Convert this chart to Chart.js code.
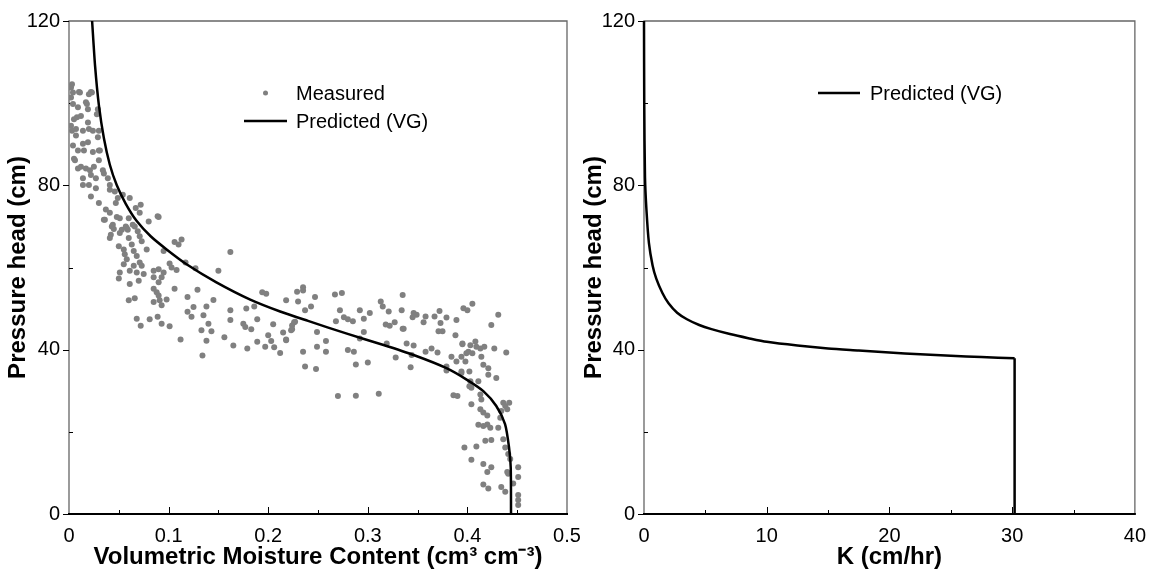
<!DOCTYPE html>
<html>
<head>
<meta charset="utf-8">
<script src="https://cdn.jsdelivr.net/npm/chart.js@4.4.0/dist/chart.umd.min.js"></script>
<style>
  html, body { margin: 0; padding: 0; background: #fff; }
  #wrap { position: relative; width: 1156px; height: 572px; overflow: hidden; }
  #left { position: absolute; left: 0; top: 0; }
  #right { position: absolute; left: 578px; top: 0; }
</style>
</head>
<body>
<div id="wrap">
  <canvas id="left" width="600" height="572"></canvas>
  <canvas id="right" width="578" height="572"></canvas>
</div>
<script>
// measured retention points: moisture content (cm3/cm3) and pressure head (cm)
let measuredTheta = [
  0.002,0.004,0.010,0.020,0.022,0.002,0.004,0.009,0.017,0.019,
  0.012,0.005,0.002,0.007,0.014,0.020,0.024,0.030,0.029,0.019,
  0.007,0.004,0.009,0.015,0.024,0.030,0.005,0.012,0.017,0.022,
  0.027,0.014,0.030,0.025,0.035,0.039,0.020,0.027,0.041,0.046,
  0.049,0.054,0.061,0.022,0.030,0.037,0.041,0.047,0.067,0.072,
  0.071,0.089,0.035,0.044,0.051,0.057,0.064,0.069,0.042,0.051,
  0.059,0.009,0.019,0.029,
  0.003,0.011,0.023,0.018,0.008,0.028,0.003,0.014,0.031,0.006,0.021,0.034,0.014,0.041,
  0.036,0.048,0.060,0.080,0.090,0.043,0.045,0.053,0.058,0.066,
  0.041,0.060,0.071,0.073,0.106,0.113,0.110,0.050,0.055,0.063,
  0.065,0.056,0.068,0.078,0.095,0.162,0.058,0.071,0.055,0.065,
  0.073,0.061,0.068,0.075,0.051,0.050,0.070,0.061,0.101,0.103,
  0.108,0.117,0.127,0.150,0.085,0.090,0.095,0.085,0.093,0.090,
  0.085,0.088,0.090,0.091,0.098,0.085,0.093,0.106,0.060,0.066,
  0.119,0.129,0.145,0.125,0.138,0.119,0.123,0.135,0.140,0.068,
  0.081,0.089,0.093,0.072,0.101,0.133,0.143,0.112,0.138,0.156,
  0.165,0.179,0.134,0.162,0.162,0.178,0.186,0.189,0.175,0.177,
  0.183,0.194,0.198,0.218,0.229,0.205,0.215,0.224,0.227,0.200,
  0.189,0.203,0.197,0.206,0.218,0.212,
  0.235,0.235,0.230,0.247,0.243,0.237,0.226,0.224,0.223,0.218,
  0.235,0.249,0.249,0.258,0.258,0.237,0.248,0.267,0.274,0.272,
  0.268,0.276,0.280,0.285,0.292,0.296,0.302,0.296,0.292,0.280,
  0.286,0.288,0.300,0.319,0.313,0.315,0.321,0.318,0.322,0.327,
  0.335,0.334,0.335,0.328,0.339,0.346,0.344,0.343,0.346,0.349,
  0.345,0.358,0.356,0.367,0.372,0.373,0.371,0.375,0.379,0.389,
  0.396,0.400,0.388,0.395,0.358,0.364,0.370,0.384,0.389,0.394,
  0.398,0.399,0.379,0.379,0.394,0.386,0.390,0.402,0.270,0.288,
  0.311,0.336,0.397,
  0.405,0.431,0.424,0.395,0.401,0.403,0.405,0.408,0.409,0.413,
  0.414,0.417,0.427,0.439,0.416,0.421,0.421,0.429,0.394,0.402,
  0.403,0.404,0.411,0.413,0.414,0.404,0.413,0.416,0.420,0.411,
  0.416,0.420,0.423,0.433,0.434,0.438,0.442,0.436,0.440,0.431,
  0.436,0.438,0.424,0.418,0.409,0.404,0.416,0.424,0.420,0.416,
  0.421,0.434,0.438,0.441,0.446,0.441,0.451,0.451,0.451,0.451,
  0.451,0.443,0.440
];
let measuredHead = [
  103.8,102.6,102.7,102.2,102.7,101.4,99.8,99.0,100.2,98.5,
  96.9,96.1,94.5,93.7,93.3,93.7,93.3,93.3,91.7,90.5,
  92.1,89.7,88.5,88.5,88.1,88.5,86.5,84.5,84.1,82.5,
  81.7,81.7,86.1,84.5,82.9,81.7,80.1,79.3,80.1,78.5,
  76.9,77.7,76.9,77.3,75.7,74.1,73.3,75.7,74.5,75.3,
  73.3,72.5,71.6,70.4,72.0,70.0,70.4,68.8,68.0,68.4,
  69.2,84.1,95.3,98.5,
  104.6,102.6,102.6,99.8,96.6,97.3,93.3,90.1,88.5,86.1,83.7,83.7,80.1,78.9,
  71.6,72.3,72.0,71.2,72.3,70.0,69.4,69.2,69.6,70.0,
  67.2,67.2,67.6,66.4,66.2,66.8,65.6,65.2,64.4,65.6,
  64.0,63.2,62.8,64.4,64.0,63.8,62.0,61.2,60.8,60.4,
  60.4,59.2,58.8,58.4,58.8,57.3,56.8,56.0,61.0,60.0,
  59.4,61.2,59.8,59.2,59.2,59.6,58.8,57.6,57.6,56.4,
  54.8,54.0,53.2,52.0,52.2,51.6,50.8,54.8,52.0,52.5,
  52.8,54.6,52.1,50.4,50.5,49.2,48.0,48.4,46.3,47.5,
  47.4,48.0,46.3,45.8,45.7,44.7,44.5,42.5,42.2,43.0,
  41.0,40.3,38.6,49.6,47.2,50.0,50.5,47.4,46.3,45.5,
  45.0,54.0,53.6,52.0,54.1,46.2,44.2,45.0,46.8,43.5,
  41.9,42.1,40.7,40.6,42.5,39.2,
  55.2,54.4,51.7,52.8,50.5,49.6,46.7,45.9,44.7,42.3,
  39.5,44.3,40.7,42.1,39.5,35.9,35.3,53.4,53.8,49.6,
  46.9,47.9,47.4,46.9,49.6,47.5,48.9,44.3,42.7,39.9,
  39.5,36.4,36.9,41.5,51.7,50.5,49.3,46.1,45.8,46.7,
  53.3,49.6,45.1,38.1,41.5,41.0,38.7,35.7,48.9,48.5,
  47.9,48.1,46.7,48.1,49.4,46.5,44.5,44.5,47.8,47.2,
  50.1,49.6,43.5,41.5,39.5,40.3,39.3,38.3,37.1,38.3,
  37.1,39.1,35.9,34.9,34.7,28.9,28.7,31.1,28.7,28.8,
  29.3,45.1,16.2,
  51.2,48.5,46.0,41.3,39.5,41.1,39.1,42.0,40.7,40.3,
  38.3,40.7,40.3,39.3,36.3,35.5,33.9,33.1,34.3,34.7,
  32.3,30.7,32.3,29.1,27.9,26.7,25.5,24.7,24.0,21.7,
  21.4,21.8,21.0,23.4,25.1,26.3,27.1,27.1,25.5,21.0,
  18.2,16.2,18.0,17.8,16.4,13.2,12.2,11.4,10.2,7.2,
  6.2,6.6,5.4,9.8,7.4,14.6,11.4,9.0,4.6,3.4,
  2.2,13.4,10.2
];

// van Genuchten retention curve
let vgTheta = [0.0232, 0.0262, 0.0300, 0.0350, 0.0410, 0.0480, 0.0570, 0.0680, 0.0820, 0.098,
               0.118, 0.148, 0.182, 0.212, 0.240, 0.279, 0.315, 0.346, 0.379, 0.400,
               0.416, 0.429, 0.4378, 0.4418, 0.4435, 0.4438];
let vgHead  = [120, 109, 99.5, 91.5, 85, 80, 75.5, 71.3, 67.6, 64.4,
               60.8, 56.4, 52.2, 49.3, 47.0, 43.9, 41.2, 38.7, 35.5, 32.6,
               29.9, 26.3, 21.9, 16.2, 11.3, 0];

// conductivity curve (cm/hr) vs pressure head
let kValues = [0, 0.02, 0.08, 0.2, 0.4, 0.7, 1.0, 1.5, 2.0, 2.7, 3.5, 4.5, 5.5, 7, 8.5,
               10, 12.5, 15, 17.5, 20, 22.5, 25, 27.5, 30.2];
let kHead   = [120, 100, 82, 74, 66, 60.5, 57.3, 53.8, 51.3, 49.0, 47.4, 46.0, 45.0, 43.8, 42.8,
               41.9, 41.0, 40.3, 39.8, 39.3, 38.9, 38.5, 38.2, 37.9];
let kSatValues = [30.2, 30.2];
let kSatHead   = [37.9, 0];

// tick marks
let headMajor = [0, 40, 80, 120];
let headMinor = [20, 60, 100];
let thetaMajor = [0.1, 0.2, 0.3, 0.4];
let thetaMinor = [0.05, 0.15, 0.25, 0.35, 0.45];
let kMajor = [10, 20, 30];
let kMinor = [5, 15, 25, 35];

const FONT = "'Liberation Sans', Arial, sans-serif";
Chart.defaults.font.family = FONT;
Chart.defaults.color = '#000';
Chart.defaults.animation = false;

function pairs(xs, ys) {
  return xs.map((v, i) => ({ x: v, y: ys[i] }));
}

// box around the plot plus the little tick marks
const framePlugin = {
  id: 'frame',
  beforeDatasetsDraw(chart, args, opts) {
    const { ctx, chartArea: a, scales: { x, y } } = chart;
    ctx.save();
    ctx.strokeStyle = '#666';
    ctx.lineWidth = 1.3;
    ctx.beginPath();
    ctx.moveTo(a.left, a.bottom);
    ctx.lineTo(a.left, a.top);
    ctx.lineTo(a.right, a.top);
    ctx.lineTo(a.right, a.bottom);
    ctx.stroke();

    ctx.strokeStyle = '#000';
    ctx.lineWidth = 1;
    ctx.beginPath();
    opts.xMajor.forEach(v => {
      const px = Math.round(x.getPixelForValue(v)) + 0.5;
      ctx.moveTo(px, a.bottom); ctx.lineTo(px, a.bottom - 7);
    });
    opts.xMinor.forEach(v => {
      const px = Math.round(x.getPixelForValue(v)) + 0.5;
      ctx.moveTo(px, a.bottom); ctx.lineTo(px, a.bottom - 4);
    });
    opts.yMajor.forEach(v => {
      const py = Math.round(y.getPixelForValue(v)) + 0.5;
      ctx.moveTo(a.left - 6, py); ctx.lineTo(a.left, py);
    });
    opts.yMinor.forEach(v => {
      const py = Math.round(y.getPixelForValue(v)) + 0.5;
      ctx.moveTo(a.left, py); ctx.lineTo(a.left + 4, py);
    });
    ctx.stroke();

    ctx.lineWidth = 2;
    ctx.beginPath();
    ctx.moveTo(a.left - 1, a.bottom);
    ctx.lineTo(a.right + 1, a.bottom);
    ctx.stroke();
    ctx.restore();
  }
};

// legend drawn inside the plot area
const keyPlugin = {
  id: 'key',
  afterDatasetsDraw(chart, args, opts) {
    const { ctx, chartArea: a } = chart;
    ctx.save();
    ctx.font = '20px ' + FONT;
    ctx.textBaseline = 'middle';
    opts.items.forEach(it => {
      const ds = chart.data.datasets[it.dataset];
      const yy = a.top + it.y;
      if (ds.showLine) {
        ctx.strokeStyle = ds.borderColor;
        ctx.lineWidth = ds.borderWidth;
        ctx.beginPath();
        ctx.moveTo(a.left + it.x0, yy);
        ctx.lineTo(a.left + it.x1, yy);
        ctx.stroke();
      } else {
        ctx.fillStyle = ds.pointBackgroundColor;
        ctx.beginPath();
        ctx.arc(a.left + (it.x0 + it.x1) / 2, yy, 2.5, 0, Math.PI * 2);
        ctx.fill();
      }
      ctx.fillStyle = '#000';
      ctx.fillText(ds.label, a.left + it.tx, yy + 1);
    });
    ctx.restore();
  }
};

function axisX(max, step, title) {
  return {
    type: 'linear', min: 0, max: max,
    ticks: { stepSize: step, padding: 10, font: { size: 20 } },
    grid: { display: false, drawTicks: false },
    border: { display: false },
    title: { display: true, text: title, font: { size: 24, weight: 'bold' }, padding: { top: 0, bottom: 0 } },
    afterFit: s => { s.height = 58; }
  };
}

function axisY(width, titlePad) {
  return {
    type: 'linear', min: 0, max: 120,
    ticks: { stepSize: 40, padding: 9, font: { size: 20 } },
    grid: { display: false, drawTicks: false },
    border: { display: false },
    title: { display: true, text: 'Pressure head (cm)', font: { size: 24, weight: 'bold' }, padding: { top: titlePad, bottom: 0 } },
    afterFit: s => { s.width = width; }
  };
}

new Chart(document.getElementById('left'), {
  type: 'scatter',
  data: {
    datasets: [
      {
        label: 'Predicted (VG)',
        data: pairs(vgTheta, vgHead),
        showLine: true,
        borderColor: '#000',
        borderWidth: 2.5,
        pointRadius: 0,
        tension: 0.25,
        clip: 4,
        order: 0
      },
      {
        label: 'Measured',
        data: pairs(measuredTheta, measuredHead),
        showLine: false,
        pointRadius: 3,
        pointBorderWidth: 0,
        pointBackgroundColor: '#808080',
        order: 1
      }
    ]
  },
  options: {
    responsive: false,
    layout: { padding: { left: 0, top: 16, right: 33, bottom: 0 } },
    scales: {
      x: axisX(0.5, 0.1, 'Volumetric Moisture Content (cm\u00B3 cm\u207B\u00B3)'),
      y: axisY(69, 4)
    },
    plugins: {
      legend: { display: false },
      tooltip: { enabled: false },
      frame: { xMajor: thetaMajor, xMinor: thetaMinor, yMajor: headMajor, yMinor: headMinor },
      key: { items: [
        { dataset: 1, x0: 175, x1: 218, tx: 227, y: 72 },
        { dataset: 0, x0: 175, x1: 218, tx: 227, y: 100 }
      ] }
    }
  },
  plugins: [framePlugin, keyPlugin]
});

new Chart(document.getElementById('right'), {
  type: 'scatter',
  data: {
    datasets: [
      {
        label: 'Predicted (VG)',
        data: pairs(kValues, kHead),
        showLine: true,
        borderColor: '#000',
        borderWidth: 2.5,
        pointRadius: 0,
        tension: 0.25,
        clip: 4
      },
      {
        label: 'Predicted (VG)',
        data: pairs(kSatValues, kSatHead),
        showLine: true,
        borderColor: '#000',
        borderWidth: 2.5,
        pointRadius: 0,
        tension: 0,
        clip: 4
      }
    ]
  },
  options: {
    responsive: false,
    layout: { padding: { left: 0, top: 16, right: 14, bottom: 0 } },
    scales: {
      x: axisX(40, 10, 'K (cm/hr)'),
      y: axisY(66, 2)
    },
    plugins: {
      legend: { display: false },
      tooltip: { enabled: false },
      frame: { xMajor: kMajor, xMinor: kMinor, yMajor: headMajor, yMinor: headMinor },
      key: { items: [
        { dataset: 0, x0: 174, x1: 216, tx: 226, y: 72 }
      ] }
    }
  },
  plugins: [framePlugin, keyPlugin]
});
</script>
</body>
</html>
